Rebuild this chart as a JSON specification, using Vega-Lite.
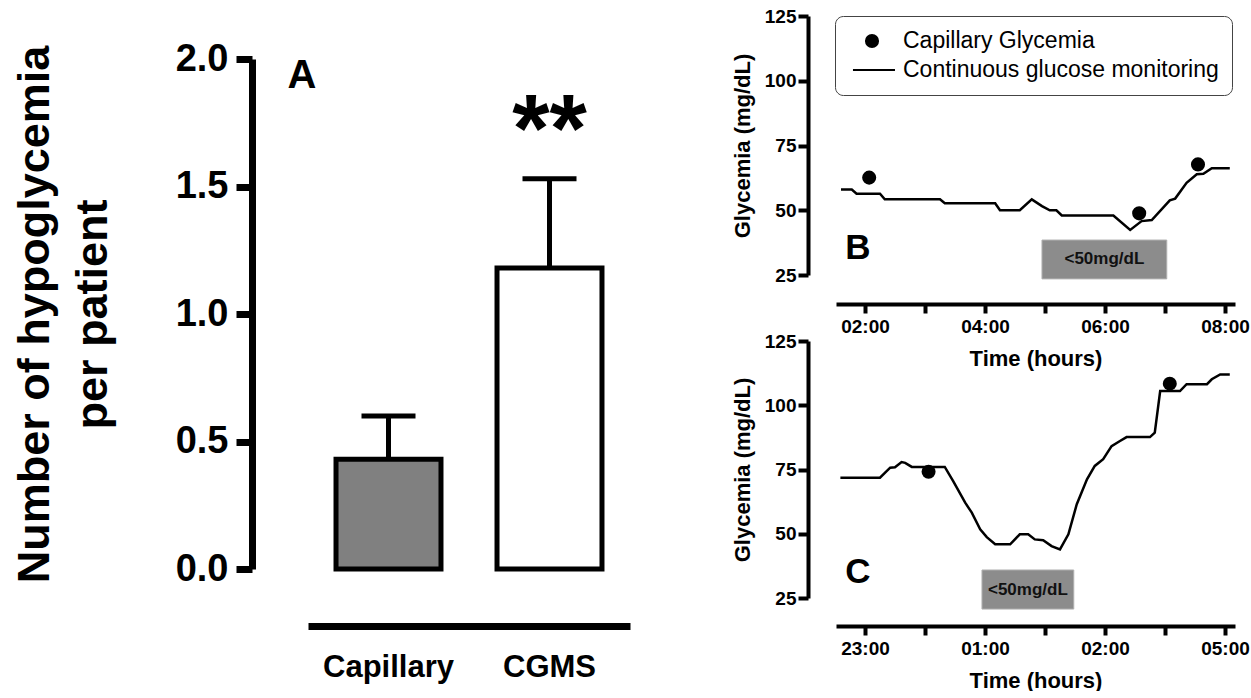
{
  "$schema": "https://vega.github.io/schema/vega-lite/v6.json",
  "autosize": {"type": "pad"},
  "padding": {"left": 12, "top": 7, "right": 0, "bottom": 0},
  "background": "white",
  "config": {
    "font": "Liberation Sans",
    "view": {"stroke": null},
    "axis": {"grid": false, "domainColor": "black", "tickColor": "black", "labelColor": "black", "titleColor": "black", "labelFontWeight": "bold", "titleFontWeight": "bold", "labelFlush": false, "labelOverlap": false}
  },
  "datasets": {
    "bars": [
      {"group": "Capillary", "mean": 0.43, "upper": 0.6},
      {"group": "CGMS", "mean": 1.18, "upper": 1.53}
    ],
    "a_text": [
      {"group": "CGMS", "y": 1.6, "label": "**"}
    ],
    "a_letter": [
      {"group": "Capillary", "y": 1.886, "label": "A"}
    ],
    "b_cgm": [
      {"t": 1.60, "g": 58}, {"t": 1.78, "g": 58}, {"t": 1.86, "g": 56.4}, {"t": 2.25, "g": 56.4},
      {"t": 2.33, "g": 54.2}, {"t": 3.25, "g": 54.2}, {"t": 3.33, "g": 52.7}, {"t": 4.17, "g": 52.7},
      {"t": 4.25, "g": 50}, {"t": 4.58, "g": 50}, {"t": 4.78, "g": 54.2}, {"t": 4.95, "g": 51.6},
      {"t": 5.08, "g": 50}, {"t": 5.19, "g": 50}, {"t": 5.28, "g": 48}, {"t": 6.14, "g": 48},
      {"t": 6.42, "g": 42.4}, {"t": 6.61, "g": 45.8}, {"t": 6.78, "g": 46.2}, {"t": 7.08, "g": 53.8},
      {"t": 7.17, "g": 54.5}, {"t": 7.36, "g": 60.6}, {"t": 7.53, "g": 63.9}, {"t": 7.64, "g": 64.1},
      {"t": 7.78, "g": 66.2}, {"t": 8.08, "g": 66.2}
    ],
    "b_cap": [
      {"t": 2.07, "g": 62.6, "series": "Capillary Glycemia"},
      {"t": 6.57, "g": 48.8, "series": "Capillary Glycemia"},
      {"t": 7.55, "g": 67.7, "series": "Capillary Glycemia"}
    ],
    "b_ann": [
      {"x1": 4.95, "x2": 7.03, "y1": 23.5, "y2": 38.5, "xm": 5.99, "ym": 31, "label": "<50mg/dL"}
    ],
    "b_letter": [{"t": 1.67, "g": 31.2, "label": "B"}],
    "c_cgm": [
      {"t": -0.41, "g": 71.8}, {"t": 0.25, "g": 71.8}, {"t": 0.42, "g": 75.7}, {"t": 0.50, "g": 75.9},
      {"t": 0.61, "g": 77.9}, {"t": 0.67, "g": 77.6}, {"t": 0.78, "g": 76.0}, {"t": 1.33, "g": 76.0},
      {"t": 1.47, "g": 70.5}, {"t": 1.67, "g": 62.1}, {"t": 1.78, "g": 58.2}, {"t": 1.92, "g": 51.7},
      {"t": 2.03, "g": 48.7}, {"t": 2.17, "g": 45.9}, {"t": 2.42, "g": 45.9}, {"t": 2.58, "g": 49.8},
      {"t": 2.72, "g": 49.8}, {"t": 2.83, "g": 47.8}, {"t": 2.97, "g": 47.5}, {"t": 3.11, "g": 45.2},
      {"t": 3.25, "g": 43.9}, {"t": 3.39, "g": 49.8}, {"t": 3.53, "g": 61.5}, {"t": 3.70, "g": 71.2},
      {"t": 3.83, "g": 76.4}, {"t": 3.97, "g": 79.0}, {"t": 4.11, "g": 84.1}, {"t": 4.25, "g": 86.1},
      {"t": 4.36, "g": 87.6}, {"t": 4.75, "g": 87.6}, {"t": 4.83, "g": 89.3}, {"t": 4.92, "g": 105.5},
      {"t": 5.25, "g": 105.5}, {"t": 5.36, "g": 108.2}, {"t": 5.70, "g": 108.2}, {"t": 5.78, "g": 110.1},
      {"t": 5.92, "g": 112}, {"t": 6.08, "g": 112}
    ],
    "c_cap": [
      {"t": 1.06, "g": 74.1, "series": "Capillary Glycemia"},
      {"t": 5.08, "g": 108.4, "series": "Capillary Glycemia"}
    ],
    "c_ann": [
      {"x1": 1.95, "x2": 3.48, "y1": 20.7, "y2": 35.9, "xm": 2.715, "ym": 28.3, "label": "<50mg/dL"}
    ],
    "c_letter": [{"t": -0.33, "g": 30.8, "label": "C"}]
  },
  "bounds": "flush",
  "spacing": 206,
  "hconcat": [
    {
      "width": 322,
      "height": 553,
      "layer": [
        {
          "data": {"name": "bars"},
          "mark": {"type": "rule", "strokeWidth": 5, "color": "black"},
          "encoding": {
            "x": {"field": "group", "type": "nominal", "sort": null,
                  "scale": {"domain": ["Capillary", "CGMS"], "paddingInner": 0.348, "paddingOuter": 0.174},
                  "axis": {"title": null, "offset": 57, "domainWidth": 7, "ticks": false, "tickSize": 0, "labelFontSize": 31, "labelPadding": 26, "labelAngle": 0}},
            "y": {"field": "mean", "type": "quantitative",
                  "scale": {"domain": [0, 2], "range": [553, 43], "nice": false},
                  "axis": {"values": [0, 0.5, 1, 1.5, 2], "format": ".1f", "offset": 56, "domainWidth": 7, "tickWidth": 7, "tickSize": 16, "labelFontSize": 38, "labelPadding": 8,
                           "title": ["Number of hypoglycemia", "per patient"], "titleFontSize": 45, "titleLineHeight": 58, "titlePadding": 60}},
            "y2": {"field": "upper"}
          }
        },
        {
          "data": {"name": "bars"},
          "mark": {"type": "tick", "size": 54, "thickness": 5, "color": "black", "opacity": 1},
          "encoding": {
            "x": {"field": "group", "type": "nominal", "sort": null},
            "y": {"field": "upper", "type": "quantitative"}
          }
        },
        {
          "data": {"name": "bars"},
          "mark": {"type": "bar", "stroke": "black", "strokeWidth": 5, "opacity": 1},
          "encoding": {
            "x": {"field": "group", "type": "nominal", "sort": null},
            "y": {"field": "mean", "type": "quantitative"},
            "fill": {"field": "group", "type": "nominal", "scale": {"domain": ["Capillary", "CGMS"], "range": ["#808080", "#ffffff"]}, "legend": null}
          }
        },
        {
          "data": {"name": "a_text"},
          "mark": {"type": "text", "fontSize": 96, "fontWeight": "bold", "baseline": "alphabetic", "align": "center", "color": "black"},
          "encoding": {
            "x": {"field": "group", "type": "nominal", "sort": null},
            "y": {"field": "y", "type": "quantitative"},
            "text": {"field": "label"}
          }
        },
        {
          "data": {"name": "a_letter"},
          "mark": {"type": "text", "fontSize": 40, "fontWeight": "bold", "baseline": "alphabetic", "align": "left", "dx": -101, "color": "black"},
          "encoding": {
            "x": {"field": "group", "type": "nominal", "sort": null},
            "y": {"field": "y", "type": "quantitative"},
            "text": {"field": "label"}
          }
        }
      ]
    },
    {
      "bounds": "flush",
      "spacing": 66,
      "vconcat": [
        {
          "width": 399,
          "height": 259,
          "layer": [
            {
              "mark": {"type": "rule", "strokeDash": [3, 3], "color": "#555", "strokeWidth": 1},
              "encoding": {"y": {"datum": 50, "type": "quantitative"}}
            },
            {
              "data": {"name": "b_ann"},
              "mark": {"type": "rect", "fill": "#8c8c8c", "stroke": "#b0b0b0", "strokeWidth": 1},
              "encoding": {
                "x": {"field": "x1", "type": "quantitative"}, "x2": {"field": "x2"},
                "y": {"field": "y1", "type": "quantitative"}, "y2": {"field": "y2"}
              }
            },
            {
              "data": {"name": "b_ann"},
              "mark": {"type": "text", "fontSize": 17, "fontWeight": "bold", "color": "#111"},
              "encoding": {
                "x": {"field": "xm", "type": "quantitative"},
                "y": {"field": "ym", "type": "quantitative"},
                "text": {"field": "label"}
              }
            },
            {
              "data": {"name": "b_letter"},
              "mark": {"type": "text", "fontSize": 35, "fontWeight": "bold", "align": "left", "baseline": "alphabetic", "color": "black"},
              "encoding": {
                "x": {"field": "t", "type": "quantitative"},
                "y": {"field": "g", "type": "quantitative"},
                "text": {"field": "label"}
              }
            },
            {
              "data": {"name": "b_cgm"},
              "mark": {"type": "line", "color": "black", "strokeWidth": 2.5},
              "encoding": {
                "x": {"field": "t", "type": "quantitative", "scale": {"domain": [1.517, 8.167], "nice": false, "zero": false},
                      "axis": {"values": [2, 3, 4, 5, 6, 7, 8], "labelExpr": "datum.value % 2 === 0 ? '0' + datum.value + ':00' : ''", "offset": 29, "domainWidth": 4, "tickWidth": 4, "tickSize": 9, "labelFontSize": 19, "labelPadding": 4, "title": "Time (hours)", "titleFontSize": 22, "titlePadding": 12}},
                "y": {"field": "g", "type": "quantitative", "scale": {"domain": [25, 125], "nice": false, "zero": false},
                      "axis": {"values": [25, 50, 75, 100, 125], "offset": 28, "domainWidth": 4, "tickWidth": 4, "tickSize": 10, "labelFontSize": 19, "labelPadding": 2, "title": "Glycemia (mg/dL)", "titleFontSize": 22, "titlePadding": 10}}
              }
            },
            {
              "data": {"name": "b_cap"},
              "mark": {"type": "point", "filled": true, "color": "black", "stroke": "black", "strokeWidth": 2, "size": 484, "opacity": 1},
              "encoding": {
                "x": {"field": "t", "type": "quantitative"},
                "y": {"field": "g", "type": "quantitative"},
                "shape": {"field": "series", "type": "nominal",
                  "scale": {"domain": ["Capillary Glycemia", "Continuous glucose monitoring"],
                            "range": ["M-0.55,0A0.55,0.55,0,1,0,0.55,0A0.55,0.55,0,1,0,-0.55,0Z", "M-1.73,0L2.09,0"]},
                  "legend": {
                    "orient": "none", "legendX": 527, "legendY": 0, "title": null,
                    "padding": 13, "rowPadding": 5, "symbolSize": 484, "symbolOffset": 12,
                    "symbolStrokeWidth": 2, "symbolOpacity": 1,
                    "labelFontSize": 23, "labelFont": "Liberation Sans", "labelFontWeight": "normal", "labelColor": "black",
                    "labelOffset": 19, "labelLimit": 500, "strokeColor": "#444", "cornerRadius": 8, "fillColor": "white"
                  }}
              }
            }
          ]
        },
        {
          "width": 399,
          "height": 257,
          "layer": [
            {
              "mark": {"type": "rule", "strokeDash": [3, 3], "color": "#555", "strokeWidth": 1},
              "encoding": {"y": {"datum": 50, "type": "quantitative"}}
            },
            {
              "data": {"name": "c_ann"},
              "mark": {"type": "rect", "fill": "#8c8c8c", "stroke": "#b0b0b0", "strokeWidth": 1},
              "encoding": {
                "x": {"field": "x1", "type": "quantitative"}, "x2": {"field": "x2"},
                "y": {"field": "y1", "type": "quantitative"}, "y2": {"field": "y2"}
              }
            },
            {
              "data": {"name": "c_ann"},
              "mark": {"type": "text", "fontSize": 17, "fontWeight": "bold", "color": "#111"},
              "encoding": {
                "x": {"field": "xm", "type": "quantitative"},
                "y": {"field": "ym", "type": "quantitative"},
                "text": {"field": "label"}
              }
            },
            {
              "data": {"name": "c_letter"},
              "mark": {"type": "text", "fontSize": 35, "fontWeight": "bold", "align": "left", "baseline": "alphabetic", "color": "black"},
              "encoding": {
                "x": {"field": "t", "type": "quantitative"},
                "y": {"field": "g", "type": "quantitative"},
                "text": {"field": "label"}
              }
            },
            {
              "data": {"name": "c_cgm"},
              "mark": {"type": "line", "color": "black", "strokeWidth": 2.5},
              "encoding": {
                "x": {"field": "t", "type": "quantitative", "scale": {"domain": [-0.483, 6.167], "nice": false, "zero": false},
                      "axis": {"values": [0, 1, 2, 3, 4, 5, 6], "labelExpr": "datum.value === 0 ? '23:00' : datum.value === 2 ? '01:00' : datum.value === 4 ? '02:00' : datum.value === 6 ? '05:00' : ''", "offset": 28, "domainWidth": 4, "tickWidth": 4, "tickSize": 9, "labelFontSize": 19, "labelPadding": 4, "title": "Time (hours)", "titleFontSize": 22, "titlePadding": 12}},
                "y": {"field": "g", "type": "quantitative", "scale": {"domain": [25, 125], "nice": false, "zero": false},
                      "axis": {"values": [25, 50, 75, 100, 125], "offset": 28, "domainWidth": 4, "tickWidth": 4, "tickSize": 10, "labelFontSize": 19, "labelPadding": 2, "title": "Glycemia (mg/dL)", "titleFontSize": 22, "titlePadding": 10}}
              }
            },
            {
              "data": {"name": "c_cap"},
              "mark": {"type": "point", "filled": true, "color": "black", "size": 196, "opacity": 1},
              "encoding": {
                "x": {"field": "t", "type": "quantitative"},
                "y": {"field": "g", "type": "quantitative"}
              }
            }
          ]
        }
      ]
    }
  ]
}
